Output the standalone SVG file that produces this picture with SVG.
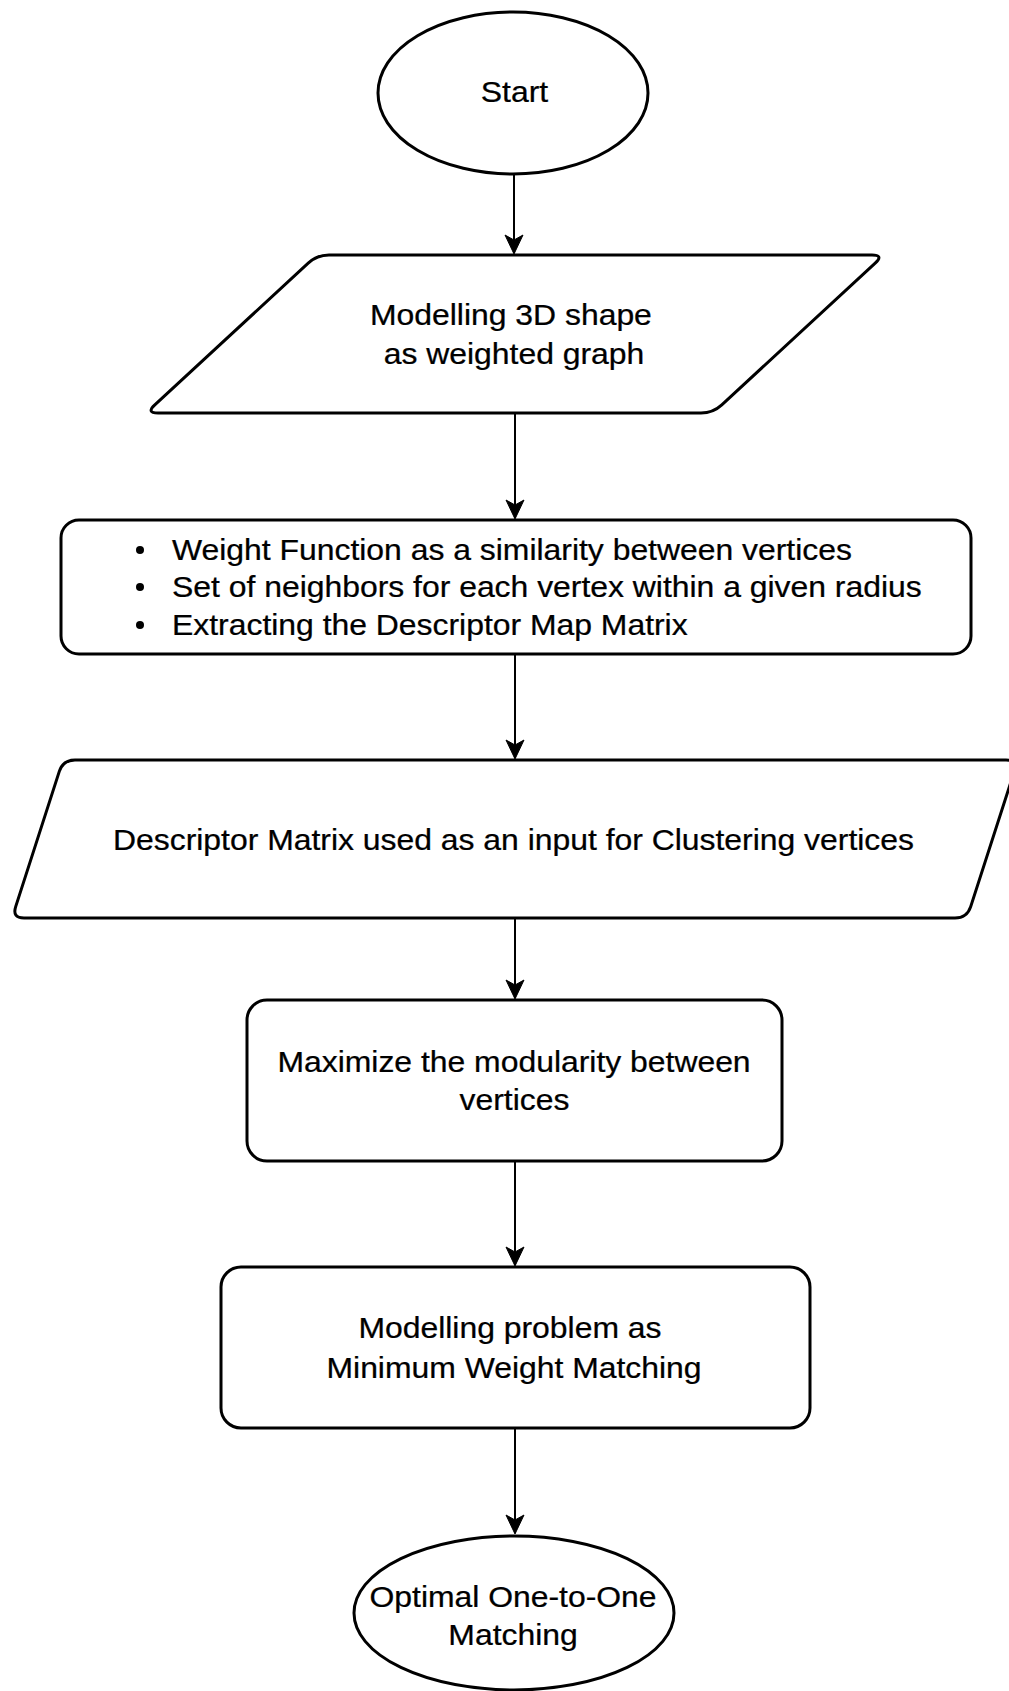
<svg xmlns="http://www.w3.org/2000/svg" width="1009" height="1691" viewBox="0 0 1009 1691">
  <style>
    .shape { fill: #ffffff; stroke: #000000; stroke-width: 3; }
    .conn { fill: none; stroke: #000000; stroke-width: 2; }
    .lbl { font-family: "Liberation Sans", Arial, Helvetica, sans-serif; font-size: 29px; fill: #000000; stroke: #000000; stroke-width: 0.25; }
    .mid { text-anchor: middle; }
  </style>
  <defs>
    <marker id="arrow" markerUnits="userSpaceOnUse" markerWidth="20" markerHeight="20" viewBox="0 0 20 20" refX="19" refY="10" orient="auto">
      <path d="M20,10 L1,1 L6,10 L1,19 Z" fill="#000000" stroke="#000000" stroke-width="1" stroke-linejoin="miter"/>
    </marker>
  </defs>
  <rect x="0" y="0" width="1009" height="1691" fill="#ffffff"/>

  <g id="connectors">
    <line class="conn" x1="514" y1="174" x2="514" y2="253" marker-end="url(#arrow)"/>
    <line class="conn" x1="515" y1="414" x2="515" y2="518" marker-end="url(#arrow)"/>
    <line class="conn" x1="515" y1="655" x2="515" y2="758" marker-end="url(#arrow)"/>
    <line class="conn" x1="515" y1="919" x2="515" y2="998" marker-end="url(#arrow)"/>
    <line class="conn" x1="515" y1="1162" x2="515" y2="1265" marker-end="url(#arrow)"/>
    <line class="conn" x1="515" y1="1429" x2="515" y2="1533" marker-end="url(#arrow)"/>
  </g>

  <g id="start">
    <ellipse class="shape" cx="513" cy="93" rx="135" ry="81"/>
    <g transform="scale(1.1 1)">
      <text class="lbl mid" x="467.7" y="102">Start</text>
    </g>
  </g>

  <g id="model-graph">
    <path class="shape" d="M329,255 L872,255 Q884,255 875.2,263.1 L721.8,404.9 Q713,413 701,413 L158,413 Q146,413 154.8,404.9 L308.2,263.1 Q317,255 329,255 Z"/>
    <g transform="scale(1.1 1)">
      <text class="lbl mid" x="464.5" y="325">Modelling 3D shape</text>
      <text class="lbl mid" x="467.3" y="364">as weighted graph</text>
    </g>
  </g>

  <g id="descriptor-steps">
    <rect class="shape" x="61" y="520" width="910" height="134" rx="18" ry="18"/>
    <circle cx="140" cy="550" r="4" fill="#000000"/>
    <circle cx="140" cy="587" r="4" fill="#000000"/>
    <circle cx="140" cy="625" r="4" fill="#000000"/>
    <g transform="scale(1.1 1)">
      <text class="lbl" x="156.4" y="560">Weight Function as a similarity between vertices</text>
      <text class="lbl" x="156.4" y="597">Set of neighbors for each vertex within a given radius</text>
      <text class="lbl" x="156.4" y="635">Extracting the Descriptor Map Matrix</text>
    </g>
  </g>

  <g id="descriptor-matrix">
    <path class="shape" d="M75,760 L1006,760 Q1018,760 1014.3,771.4 L970.7,906.6 Q967,918 955,918 L24,918 Q12,918 15.7,906.6 L59.3,771.4 Q63,760 75,760 Z"/>
    <g transform="scale(1.1 1)">
      <text class="lbl mid" x="466.8" y="850">Descriptor Matrix used as an input for Clustering vertices</text>
    </g>
  </g>

  <g id="maximize">
    <rect class="shape" x="247" y="1000" width="535" height="161" rx="20" ry="20"/>
    <g transform="scale(1.1 1)">
      <text class="lbl mid" x="467.3" y="1072">Maximize the modularity between</text>
      <text class="lbl mid" x="467.7" y="1110">vertices</text>
    </g>
  </g>

  <g id="matching-model">
    <rect class="shape" x="221" y="1267" width="589" height="161" rx="20" ry="20"/>
    <g transform="scale(1.1 1)">
      <text class="lbl mid" x="463.6" y="1338">Modelling problem as</text>
      <text class="lbl mid" x="467.3" y="1378">Minimum Weight Matching</text>
    </g>
  </g>

  <g id="end">
    <ellipse class="shape" cx="514" cy="1613" rx="160" ry="77"/>
    <g transform="scale(1.1 1)">
      <text class="lbl mid" x="466.4" y="1607">Optimal One-to-One</text>
      <text class="lbl mid" x="466.4" y="1645">Matching</text>
    </g>
  </g>
</svg>
